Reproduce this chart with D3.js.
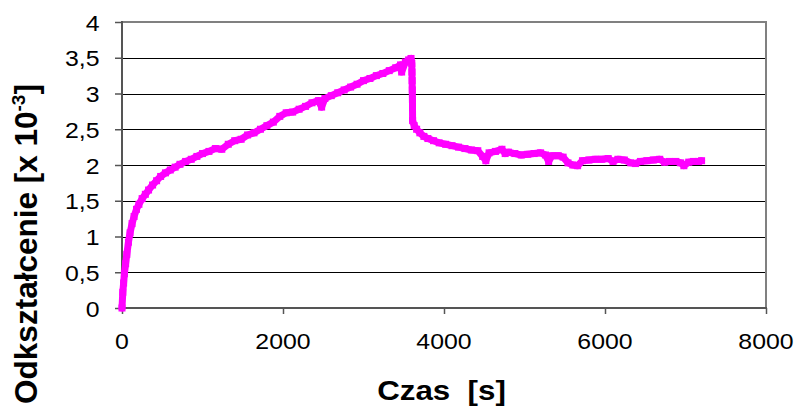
<!DOCTYPE html>
<html>
<head>
<meta charset="utf-8">
<script src="https://cdn.jsdelivr.net/npm/d3@7/dist/d3.min.js"></script>
<style>
  html, body { margin: 0; padding: 0; background: #fff; }
  svg { display: block; font-family: "Liberation Sans", Arial, sans-serif; }
</style>
</head>
<body>
<svg id="chart" width="796" height="407"></svg>
<script>
// Creep test: strain vs time (loading up to ~3600 s, then unloading / recovery)
const timeS = [
  0, 10, 20, 30, 45, 60, 80, 100, 125, 150, 180, 210, 250, 290, 330, 380, 430, 480, 540, 600,
  660, 720, 790, 860, 930, 1000, 1080, 1160, 1240, 1320, 1400, 1480, 1560, 1640, 1720, 1800,
  1880, 1960, 2040, 2120, 2200, 2280, 2360, 2440, 2480, 2520, 2600, 2680, 2760, 2840, 2920,
  3000, 3080, 3160, 3240, 3320, 3400, 3460, 3474, 3520, 3560, 3590,
  3600, 3602, 3604, 3606, 3608, 3610, 3630, 3660, 3700, 3750, 3800, 3870, 3940, 4020, 4100,
  4180, 4260, 4340, 4420, 4480, 4520, 4560, 4640, 4720, 4760, 4800, 4880, 4960, 5040, 5120,
  5200, 5260, 5300, 5340, 5420, 5480, 5540, 5600, 5660, 5720, 5800, 5880, 5960, 6040, 6100,
  6160, 6240, 6320, 6380, 6440, 6520, 6600, 6680, 6740, 6800, 6880, 6940, 6980, 7040, 7100,
  7160, 7200
];
const strain = [
  0, 0.22, 0.35, 0.48, 0.62, 0.75, 0.92, 1.05, 1.18, 1.28, 1.38, 1.45, 1.53, 1.59, 1.65, 1.72, 1.78, 1.84, 1.89, 1.93,
  1.97, 2.01, 2.05, 2.08, 2.12, 2.16, 2.19, 2.23, 2.22, 2.29, 2.34, 2.36, 2.42, 2.45, 2.50, 2.55,
  2.60, 2.68, 2.73, 2.74, 2.78, 2.82, 2.87, 2.90, 2.81, 2.93, 2.97, 3.01, 3.05, 3.09, 3.13,
  3.18, 3.21, 3.25, 3.28, 3.32, 3.36, 3.40, 3.30, 3.44, 3.47, 3.49,
  3.42, 3.30, 3.18, 3.05, 2.92, 2.62, 2.55, 2.50, 2.45, 2.40, 2.37, 2.34, 2.31, 2.29, 2.27,
  2.25, 2.23, 2.21, 2.20, 2.12, 2.06, 2.17, 2.19, 2.22, 2.16, 2.18, 2.16, 2.14, 2.15, 2.16,
  2.17, 2.14, 2.05, 2.13, 2.13, 2.11, 2.03, 2.00, 1.99, 2.06, 2.07, 2.08, 2.08, 2.09, 2.05,
  2.08, 2.07, 2.03, 2.02, 2.05, 2.06, 2.07, 2.08, 2.04, 2.05, 2.05, 2.03, 1.99, 2.04, 2.05,
  2.05, 2.06
];
const xTicks = [0, 2000, 4000, 6000, 8000];
const yTicks = [0, 0.5, 1, 1.5, 2, 2.5, 3, 3.5, 4];
const yTickLabels = ["0", "0,5", "1", "1,5", "2", "2,5", "3", "3,5", "4"];

const svg = d3.select("#chart");
const plotL = 122, plotR = 766, plotT = 22, plotB = 308;

const x = d3.scaleLinear().domain([0, 8000]).range([plotL, plotR]);
const y = d3.scaleLinear().domain([0, 4]).range([plotB, plotT]);

// horizontal gridlines
svg.append("g")
  .selectAll("line")
  .data(yTicks.filter(v => v > 0 && v < 4))
  .join("line")
  .attr("x1", plotL).attr("x2", plotR)
  .attr("y1", d => Math.round(y(d)) + 0.5).attr("y2", d => Math.round(y(d)) + 0.5)
  .attr("stroke", "#000").attr("stroke-width", 1);

// plot-area frame (top and right)
svg.append("line").attr("x1", plotL).attr("x2", plotR + 1)
  .attr("y1", plotT).attr("y2", plotT).attr("stroke", "#808080").attr("stroke-width", 2);
svg.append("line").attr("x1", plotR).attr("x2", plotR)
  .attr("y1", plotT).attr("y2", plotB).attr("stroke", "#808080").attr("stroke-width", 2);

// axes
const yAxis = d3.axisLeft(y).tickValues(yTicks).tickSize(7).tickFormat(() => "");
const xAxis = d3.axisBottom(x).tickValues(xTicks).tickSize(6).tickFormat(() => "");
const gy = svg.append("g").attr("transform", `translate(${plotL},0)`).call(yAxis);
const gx = svg.append("g").attr("transform", `translate(0,${plotB})`).call(xAxis);
[gx, gy].forEach(g => {
  g.select(".domain").attr("stroke", "#555").attr("stroke-width", 2);
  g.selectAll(".tick line").attr("stroke", "#555").attr("stroke-width", 1.5);
});
gx.select(".domain").attr("d", `M${plotL},0H${plotR + 1}`);
gy.select(".domain").attr("d", `M0,${plotB + 1}V${plotT - 1}`);

// tick labels (slightly wide Arial look)
const sx = 1.13;
svg.append("g").selectAll("text")
  .data(yTicks)
  .join("text")
  .attr("transform", d => `translate(99.5,${y(d) + 8.5}) scale(${sx},1)`)
  .attr("text-anchor", "end")
  .attr("font-size", 22)
  .attr("fill", "#000")
  .text((d, i) => yTickLabels[i]);

svg.append("g").selectAll("text")
  .data(xTicks)
  .join("text")
  .attr("transform", d => `translate(${x(d)},349) scale(${sx},1)`)
  .attr("text-anchor", "middle")
  .attr("font-size", 22)
  .attr("fill", "#000")
  .text(d => String(d));

// axis titles
svg.append("text")
  .attr("transform", `translate(441.5,400) scale(1.16,1)`)
  .attr("text-anchor", "middle")
  .attr("font-size", 27)
  .attr("font-weight", "bold")
  .style("white-space", "pre")
  .text("Czas  [s]");

const yl = svg.append("text")
  .attr("transform", `translate(37,244) rotate(-90)`)
  .attr("text-anchor", "middle")
  .attr("font-size", 31.5)
  .attr("font-weight", "bold");
yl.append("tspan").text("Odkształcenie [x 10");
yl.append("tspan").attr("font-size", 19).attr("dy", -12).text("-3");
yl.append("tspan").attr("dy", 12).text("]");

// data series: magenta markers joined by the series line
const pts = timeS.map((t, i) => [t, strain[i]]);
svg.append("path")
  .datum(pts)
  .attr("fill", "none")
  .attr("stroke", "#ff00ff")
  .attr("stroke-width", 7)
  .attr("stroke-linejoin", "round")
  .attr("stroke-linecap", "round")
  .attr("d", d3.line().x(d => x(d[0])).y(d => y(d[1])));

svg.append("g").selectAll("rect")
  .data(pts)
  .join("rect")
  .attr("x", d => x(d[0]) - 3.5)
  .attr("y", d => y(d[1]) - 3.5)
  .attr("width", 7).attr("height", 7)
  .attr("fill", "#ff00ff");
</script>
</body>
</html>
